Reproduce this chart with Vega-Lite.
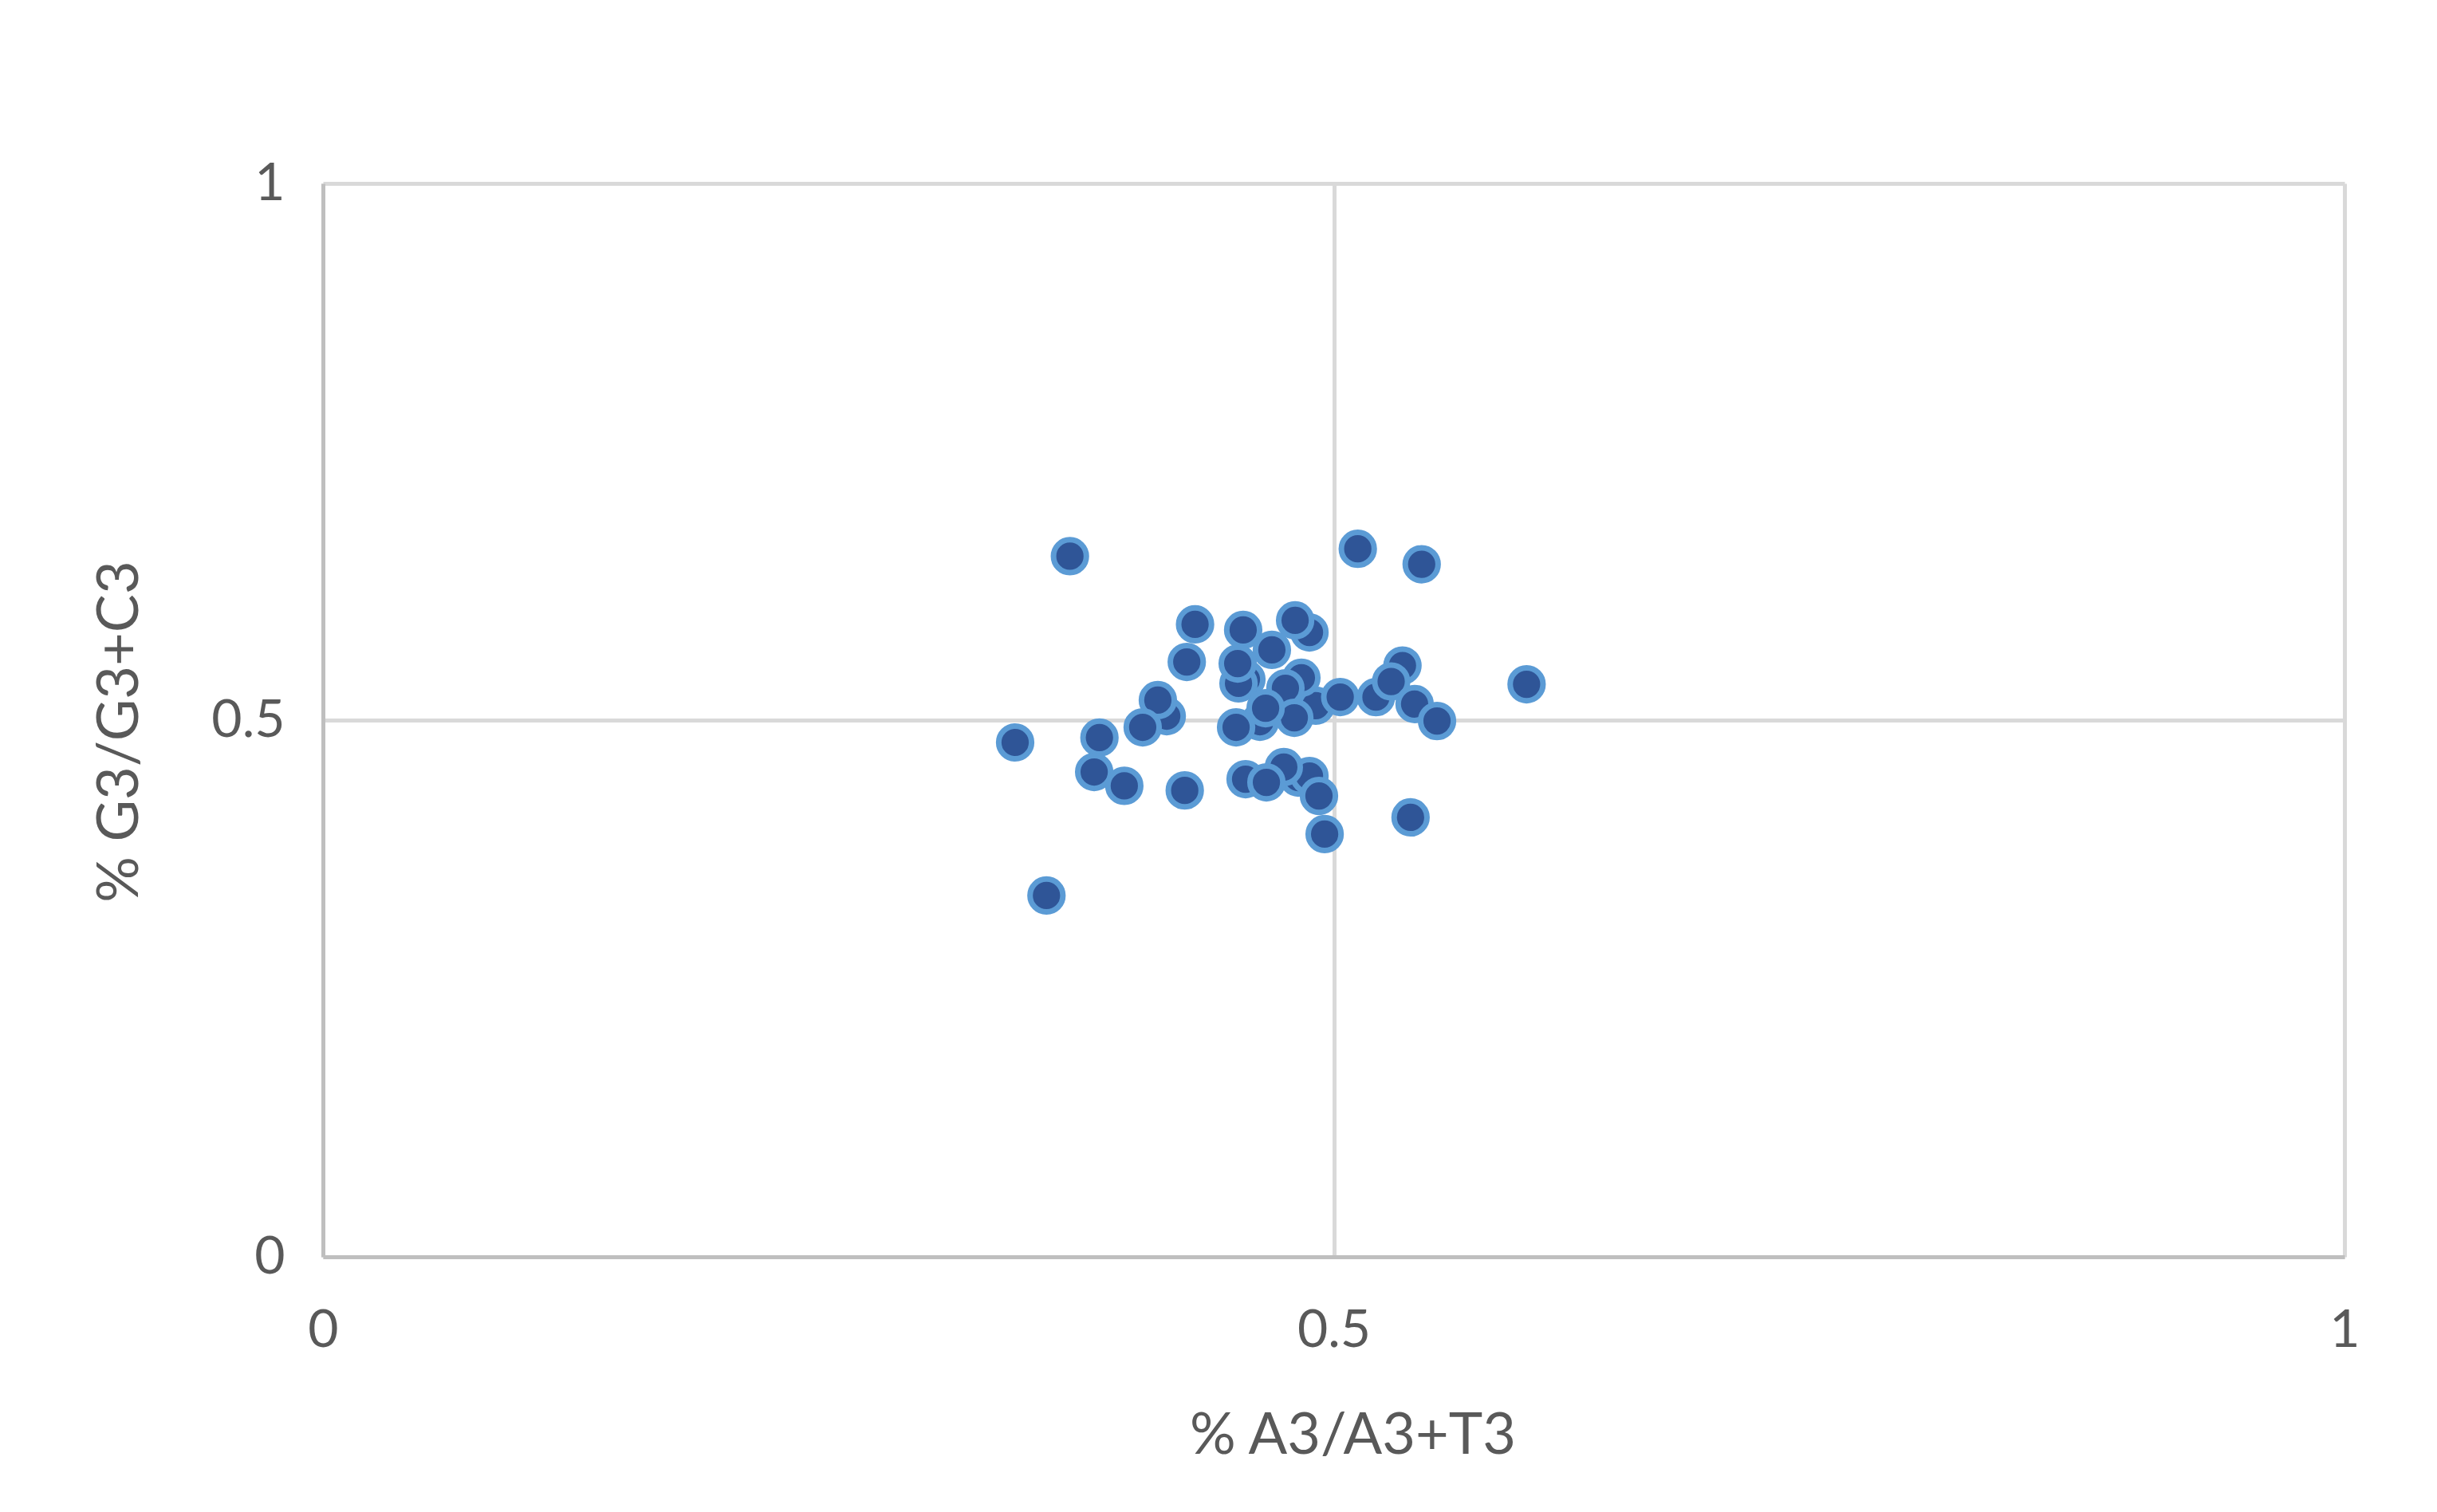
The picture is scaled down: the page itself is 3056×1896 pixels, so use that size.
{
  "$schema": "https://vega.github.io/schema/vega-lite/v6.json",
  "autosize": {"type": "none"},
  "padding": {"left": 405, "top": 230, "right": 116, "bottom": 320},
  "width": 2535,
  "height": 1346,
  "background": "#FFFFFF",
  "data": {
    "values": [
      {"at": 0.4880, "gc": 0.5817},
      {"at": 0.4568, "gc": 0.5379},
      {"at": 0.4911, "gc": 0.5134},
      {"at": 0.4635, "gc": 0.4985},
      {"at": 0.4174, "gc": 0.5037},
      {"at": 0.4824, "gc": 0.4465},
      {"at": 0.4880, "gc": 0.4480},
      {"at": 0.5340, "gc": 0.5508},
      {"at": 0.5209, "gc": 0.5214},
      {"at": 0.3695, "gc": 0.6527},
      {"at": 0.5119, "gc": 0.6596},
      {"at": 0.5435, "gc": 0.6452},
      {"at": 0.4314, "gc": 0.5892},
      {"at": 0.4552, "gc": 0.5840},
      {"at": 0.4809, "gc": 0.5929},
      {"at": 0.4694, "gc": 0.5654},
      {"at": 0.4273, "gc": 0.5542},
      {"at": 0.4529, "gc": 0.5342},
      {"at": 0.4525, "gc": 0.5527},
      {"at": 0.5284, "gc": 0.5360},
      {"at": 0.4840, "gc": 0.5394},
      {"at": 0.4761, "gc": 0.5297},
      {"at": 0.5032, "gc": 0.5215},
      {"at": 0.5400, "gc": 0.5150},
      {"at": 0.5511, "gc": 0.4992},
      {"at": 0.5954, "gc": 0.5334},
      {"at": 0.4805, "gc": 0.5022},
      {"at": 0.4663, "gc": 0.5111},
      {"at": 0.4517, "gc": 0.4933},
      {"at": 0.4130, "gc": 0.5186},
      {"at": 0.4055, "gc": 0.4933},
      {"at": 0.3841, "gc": 0.4837},
      {"at": 0.3424, "gc": 0.4792},
      {"at": 0.3815, "gc": 0.4517},
      {"at": 0.3964, "gc": 0.4388},
      {"at": 0.4263, "gc": 0.4345},
      {"at": 0.4753, "gc": 0.4562},
      {"at": 0.4564, "gc": 0.4450},
      {"at": 0.4667, "gc": 0.4420},
      {"at": 0.4927, "gc": 0.4294},
      {"at": 0.4955, "gc": 0.3938},
      {"at": 0.5380, "gc": 0.4094},
      {"at": 0.3579, "gc": 0.3366}
    ]
  },
  "mark": {
    "type": "point",
    "shape": "circle",
    "filled": true,
    "fill": "#2F5597",
    "stroke": "#5B9BD5",
    "strokeWidth": 7,
    "size": 1700,
    "opacity": 1,
    "fillOpacity": 1,
    "strokeOpacity": 1
  },
  "encoding": {
    "x": {
      "field": "at",
      "type": "quantitative",
      "scale": {"domain": [0, 1], "nice": false, "zero": false},
      "axis": {
        "title": "% A3/A3+T3",
        "values": [0, 0.5, 1],
        "format": "~g",
        "grid": true,
        "gridColor": "#D9D9D9",
        "gridWidth": 5,
        "domain": true,
        "domainColor": "#BFBFBF",
        "domainWidth": 5,
        "ticks": false,
        "labelFont": "Lato",
        "labelFontSize": 66,
        "labelColor": "#595959",
        "labelPadding": 60,
        "labelFlush": false,
        "labelBaseline": "top",
        "titleFont": "Lato",
        "titleFontSize": 72,
        "titleFontWeight": "normal",
        "titleColor": "#595959",
        "titleBaseline": "alphabetic",
        "titleAnchor": "start",
        "titleAlign": "center",
        "titleX": 1291,
        "titleY": 246
      }
    },
    "y": {
      "field": "gc",
      "type": "quantitative",
      "scale": {"domain": [0, 1], "nice": false, "zero": false},
      "axis": {
        "title": "% G3/G3+C3",
        "values": [0, 0.5, 1],
        "format": "~g",
        "grid": true,
        "gridColor": "#D9D9D9",
        "gridWidth": 5,
        "domain": true,
        "domainColor": "#BFBFBF",
        "domainWidth": 5,
        "ticks": false,
        "labelFont": "Lato",
        "labelFontSize": 66,
        "labelColor": "#595959",
        "labelPadding": 48,
        "labelFlush": false,
        "labelBaseline": "middle",
        "titleFont": "Lato",
        "titleFontSize": 72,
        "titleFontWeight": "normal",
        "titleColor": "#595959",
        "titleBaseline": "alphabetic",
        "titleAnchor": "start",
        "titleAlign": "center",
        "titleAngle": -90,
        "titleX": -233,
        "titleY": 687
      }
    }
  },
  "config": {
    "view": {"stroke": null}
  }
}
